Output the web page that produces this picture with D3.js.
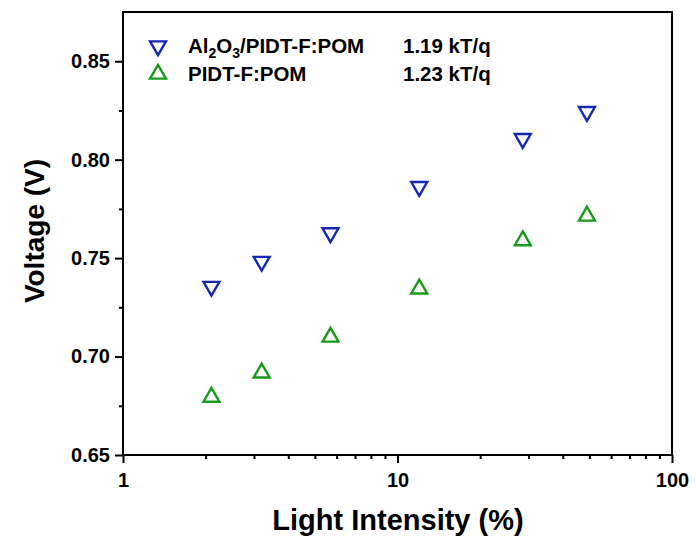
<!DOCTYPE html>
<html><head><meta charset="utf-8">
<script src="https://cdn.jsdelivr.net/npm/d3@7"></script>
<style>body{margin:0;background:#fff}svg{display:block}text{font-family:"Liberation Sans",Arial,sans-serif;font-weight:bold;fill:#000}</style>
</head><body><svg id="c" width="696" height="540"></svg>
<script>
const intensity = [2.1, 3.2, 5.7, 12.0, 28.6, 49.0];
const vocAl2O3 = [0.7356, 0.7483, 0.7628, 0.7863, 0.8107, 0.8244];
const vocPidt = [0.6794, 0.6917, 0.7099, 0.7344, 0.7589, 0.7714];
const seriesNames = ["Al2O3/PIDT-F:POM", "PIDT-F:POM"];
const slopes = ["1.19 kT/q", "1.23 kT/q"];
const xTicks = [1, 10, 100];
const yTicks = [0.65, 0.70, 0.75, 0.80, 0.85];
const colors = ["#1428b4", "#1a9a1a"];

const svg = d3.select("#c");
const L = 123, R = 672, T = 12, B = 455;
const x = d3.scaleLog().domain([1, 100]).range([L, R]);
const y = d3.scaleLinear().domain([0.65, 0.875]).range([B, T]);

// frame
svg.append("rect").attr("x", L).attr("y", T).attr("width", R - L).attr("height", B - T)
  .attr("fill", "none").attr("stroke", "#000").attr("stroke-width", 2);

const tickFont = sel => sel.style("font-size", "20px").style("font-family", '"Liberation Sans",Arial,sans-serif').style("font-weight", "bold").attr("fill", "#000");

// x axis
const minorX = [];
for (let d = 1; d < 100; d *= 10) for (let k = 2; k <= 9; k++) minorX.push(d * k);
const xAx = svg.append("g").attr("transform", `translate(0,${B})`);
xAx.call(d3.axisBottom(x).tickValues(xTicks).tickFormat(d3.format("d")).tickSize(8).tickPadding(10));
xAx.append("g").call(d3.axisBottom(x).tickValues(minorX).tickFormat("").tickSize(4));
xAx.selectAll(".domain").remove();
xAx.selectAll("line").attr("stroke", "#000").attr("stroke-width", 2);
tickFont(xAx.selectAll("text"));

// y axis
const minorY = [0.675, 0.725, 0.775, 0.825];
const yAx = svg.append("g").attr("transform", `translate(${L},0)`);
yAx.call(d3.axisLeft(y).tickValues(yTicks).tickFormat(d3.format(".2f")).tickSize(8).tickPadding(5));
yAx.append("g").call(d3.axisLeft(y).tickValues(minorY).tickFormat("").tickSize(4));
yAx.selectAll(".domain").remove();
yAx.selectAll("line").attr("stroke", "#000").attr("stroke-width", 2);
tickFont(yAx.selectAll("text"));

// titles
svg.append("text").attr("x", 398).attr("y", 530).attr("text-anchor", "middle")
  .style("font-size", "29px").text("Light Intensity (%)");
svg.append("text").attr("transform", `translate(44,231) rotate(-90)`).attr("text-anchor", "middle")
  .style("font-size", "28px").text("Voltage (V)");

// markers
const tri = d3.symbol().type(d3.symbolTriangle).size(110);
const sets = [vocAl2O3, vocPidt];
sets.forEach((vals, i) => {
  svg.append("g").selectAll("path").data(intensity).join("path")
    .attr("d", tri())
    .attr("transform", (d, j) => `translate(${x(d)},${y(vals[j])}) rotate(${i === 0 ? 180 : 0})`)
    .attr("fill", "none").attr("stroke", colors[i]).attr("stroke-width", 2.4);
});

// legend
const lg = svg.append("g");
const ly = [46, 74];
ly.forEach((yy, i) => {
  lg.append("path").attr("d", tri()).attr("transform", `translate(158,${yy}) rotate(${i === 0 ? 180 : 0})`)
    .attr("fill", "none").attr("stroke", colors[i]).attr("stroke-width", 2.4);
  lg.append("text").attr("x", 403).attr("y", yy + 7).style("font-size", "20.5px").text(slopes[i]);
});
const t0 = lg.append("text").attr("x", 188).attr("y", ly[0] + 7).style("font-size", "20.5px");
t0.append("tspan").text("Al");
t0.append("tspan").text("2").style("font-size", "14px").attr("dy", 5);
t0.append("tspan").text("O").attr("dy", -5);
t0.append("tspan").text("3").style("font-size", "14px").attr("dy", 5);
t0.append("tspan").text("/PIDT-F:POM").attr("dy", -5);
lg.append("text").attr("x", 188).attr("y", ly[1] + 7).style("font-size", "20.5px").text(seriesNames[1]);
</script></body></html>
